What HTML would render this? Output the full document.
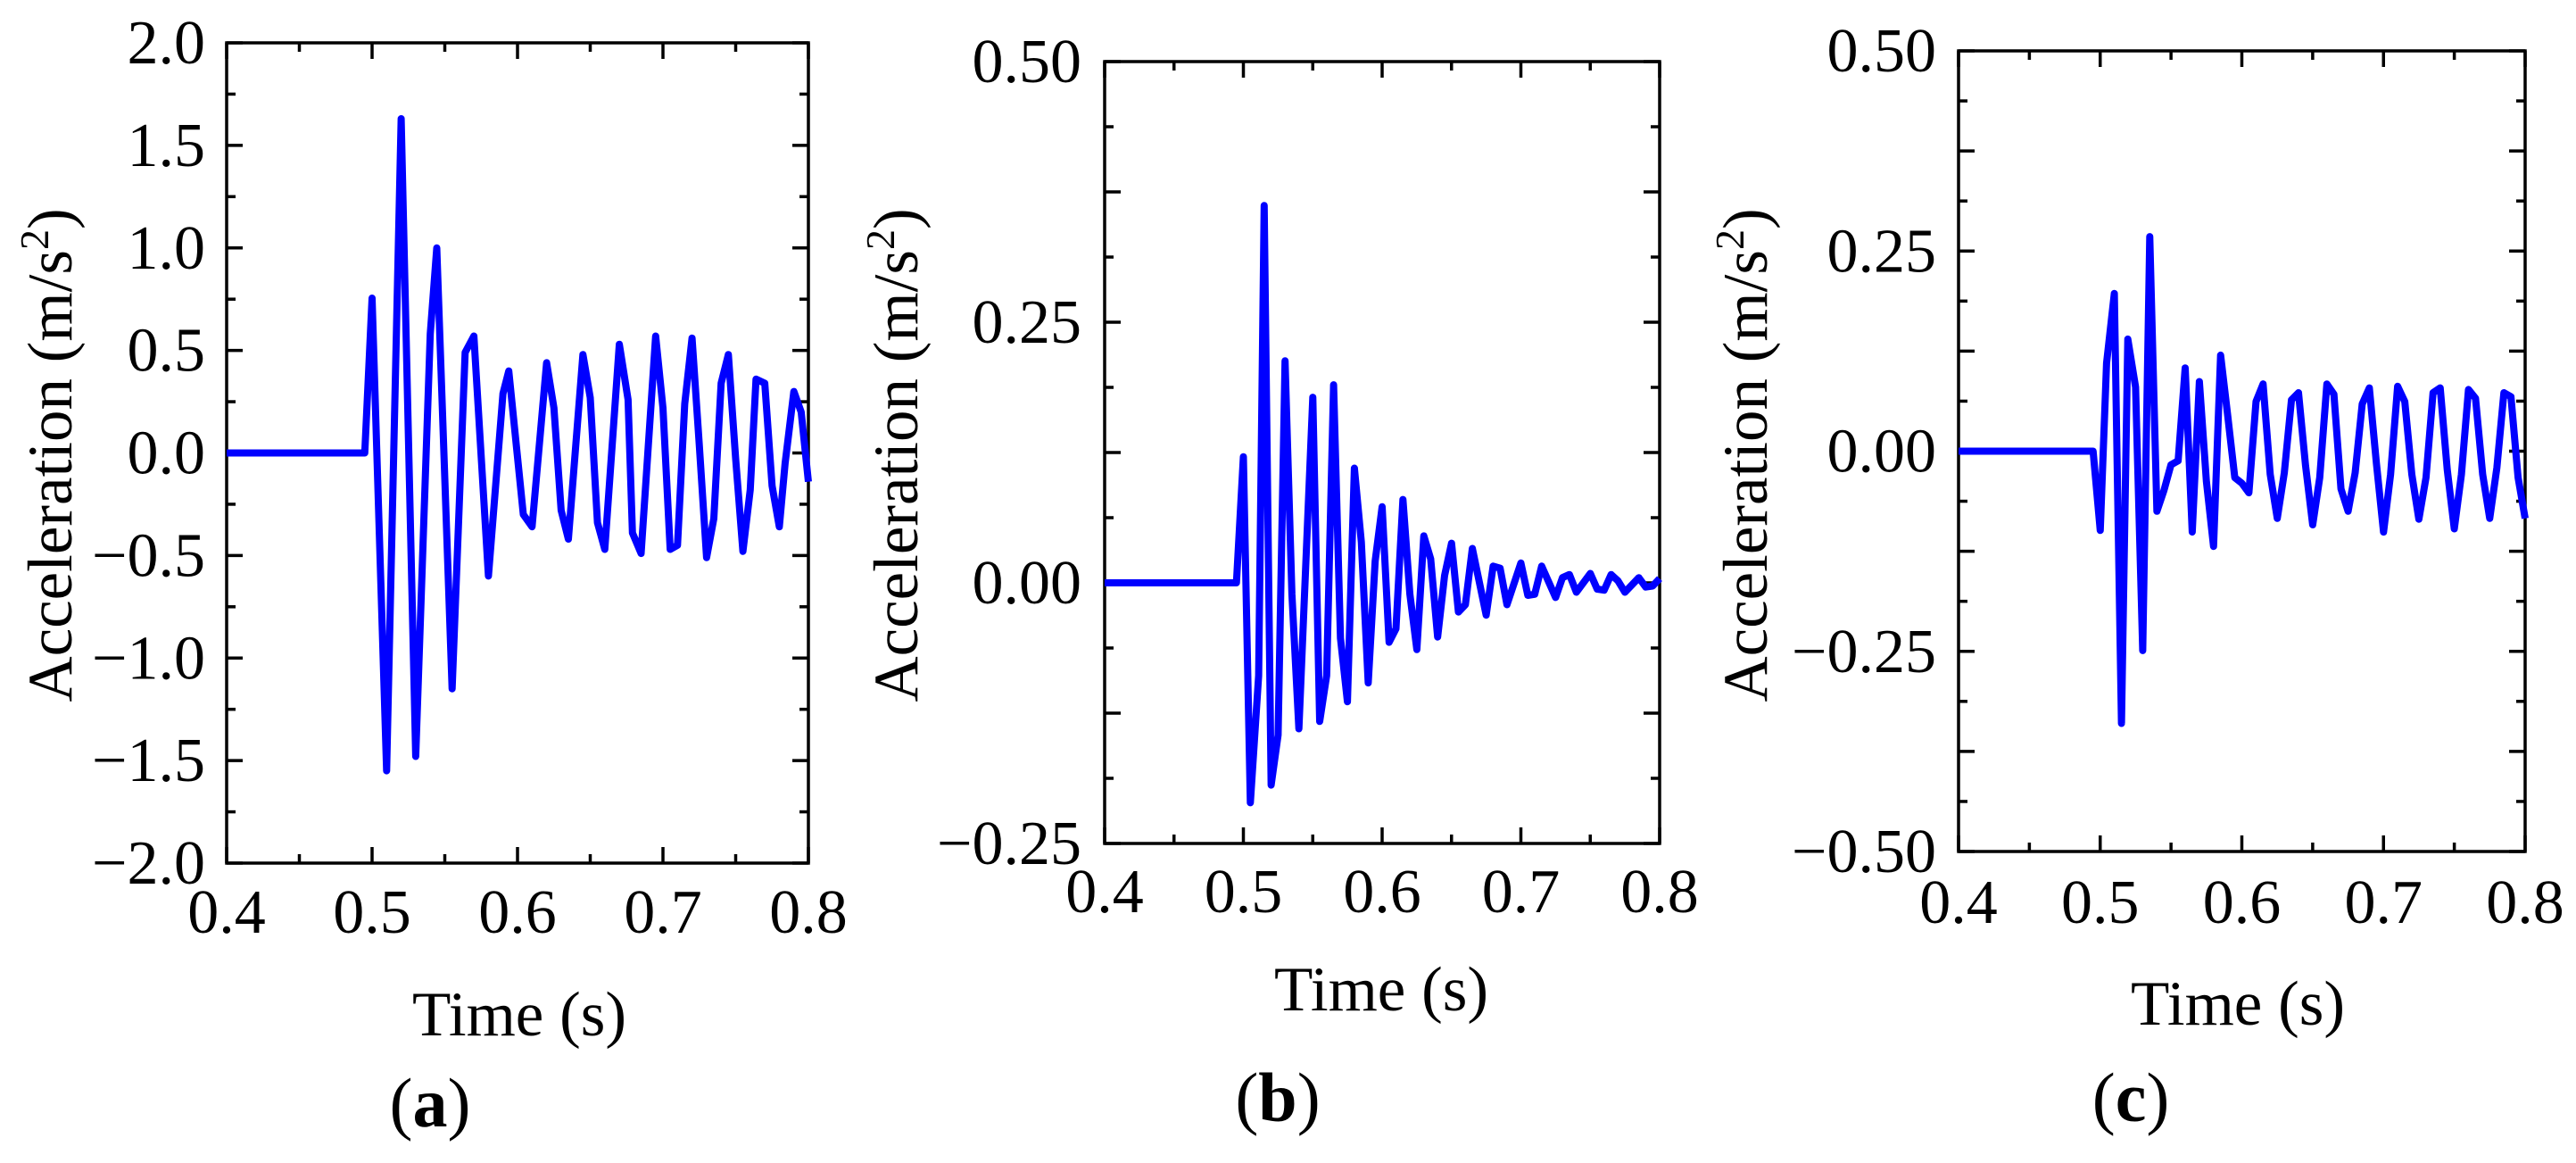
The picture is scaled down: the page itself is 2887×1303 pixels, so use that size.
<!DOCTYPE html>
<html><head><meta charset="utf-8"><style>
html,body{margin:0;padding:0;background:#fff;}
svg{display:block;}
text{font-family:"Liberation Serif",serif;fill:#000;}
</style></head><body>
<svg id="fig" width="2887" height="1303" viewBox="0 0 2887 1303" xmlns="http://www.w3.org/2000/svg"></svg>
<script>
// ---- Panel (a) data ----
const timesA=[0.4,0.495,0.5,0.51,0.52,0.53,0.54,0.5445,0.555,0.564,0.57,0.58,0.59,0.594,0.604,0.61,0.62,0.625,0.63,0.635,0.645,0.65,0.655,0.66,0.67,0.676,0.679,0.685,0.695,0.7,0.705,0.71,0.715,0.72,0.725,0.73,0.735,0.74,0.745,0.75,0.755,0.76,0.764,0.77,0.775,0.78,0.784,0.79,0.795,0.8];
const valuesA=[0,0,0.755,-1.55,1.63,-1.48,0.58,1.0,-1.15,0.49,0.57,-0.6,0.29,0.4,-0.3,-0.36,0.44,0.22,-0.28,-0.42,0.48,0.27,-0.34,-0.47,0.53,0.26,-0.39,-0.49,0.57,0.22,-0.47,-0.45,0.24,0.56,0.04,-0.51,-0.32,0.34,0.48,-0.03,-0.48,-0.18,0.36,0.34,-0.16,-0.36,-0.05,0.3,0.2,-0.14];
const yTicksA=["2.0","1.5","1.0","0.5","0.0","−0.5","−1.0","−1.5","−2.0"];
// ---- Panel (b) data ----
const timesB=[0.4,0.495,0.5,0.505,0.511,0.515,0.52,0.525,0.53,0.535,0.54,0.55,0.555,0.56,0.565,0.57,0.575,0.58,0.585,0.59,0.595,0.6,0.605,0.61,0.615,0.62,0.625,0.63,0.635,0.64,0.645,0.65,0.655,0.66,0.665,0.675,0.68,0.685,0.69,0.7,0.705,0.71,0.715,0.725,0.73,0.735,0.74,0.75,0.755,0.76,0.765,0.77,0.775,0.785,0.79,0.795,0.8];
const valuesB=[0,0,0.121,-0.211,-0.089,0.362,-0.194,-0.146,0.213,-0.011,-0.14,0.178,-0.133,-0.089,0.19,-0.053,-0.114,0.11,0.039,-0.096,0.021,0.073,-0.057,-0.044,0.08,-0.011,-0.064,0.045,0.023,-0.052,0.007,0.038,-0.028,-0.021,0.033,-0.031,0.016,0.014,-0.021,0.019,-0.012,-0.011,0.016,-0.014,0.005,0.008,-0.009,0.009,-0.006,-0.007,0.008,0.002,-0.009,0.005,-0.004,-0.003,0.004];
const yTicksB=["0.50","","0.25","","0.00","","−0.25"];
// ---- Panel (c) data ----
const timesC=[0.4,0.495,0.5,0.5045,0.51,0.515,0.5195,0.525,0.53,0.535,0.54,0.545,0.55,0.555,0.56,0.565,0.57,0.575,0.58,0.585,0.59,0.595,0.6,0.605,0.61,0.615,0.62,0.625,0.63,0.635,0.64,0.645,0.65,0.655,0.66,0.665,0.67,0.675,0.68,0.685,0.69,0.695,0.7,0.705,0.71,0.715,0.72,0.725,0.73,0.735,0.74,0.745,0.75,0.755,0.76,0.765,0.77,0.775,0.78,0.785,0.79,0.795,0.8];
const valuesC=[0,0,-0.099,0.11,0.197,-0.34,0.14,0.08,-0.249,0.268,-0.075,-0.049,-0.017,-0.012,0.104,-0.101,0.087,-0.038,-0.119,0.12,0.045,-0.033,-0.04,-0.052,0.062,0.084,-0.029,-0.084,-0.027,0.064,0.073,-0.018,-0.092,-0.033,0.084,0.071,-0.047,-0.075,-0.027,0.059,0.079,-0.015,-0.101,-0.029,0.081,0.062,-0.029,-0.085,-0.033,0.073,0.079,-0.023,-0.097,-0.029,0.077,0.066,-0.029,-0.084,-0.021,0.073,0.068,-0.033,-0.084];
const yTicksC=["0.50","","0.25","","0.00","","−0.25","","−0.50"];
const xTickLabels=["0.4","0.5","0.6","0.7","0.8"];

const NS="http://www.w3.org/2000/svg";
const svg=document.getElementById('fig');
function mk(tag,attrs,parent){const e=document.createElementNS(NS,tag);for(const k in attrs)e.setAttribute(k,attrs[k]);(parent||svg).appendChild(e);return e;}

function panel(cfg){
  const g=mk('g',{});
  
  
  const sx=t=>cfg.L+(t-0.4)/(0.4)*(cfg.R-cfg.L);
  const sy=v=>cfg.T+(cfg.ymax-v)/(cfg.ymax-cfg.ymin)*(cfg.B-cfg.T);
  const tg=mk('g',{stroke:'#000','stroke-width':3.5},g);
  
  
  for(let i=0;i<=8;i++){const t=0.4+i*0.05;const x=sx(t);const len=i%2===0?18:10;
    mk('line',{x1:x,y1:cfg.B,x2:x,y2:cfg.B-len},tg);mk('line',{x1:x,y1:cfg.T,x2:x,y2:cfg.T+len},tg);}
  const n=cfg.yLabels.length*2-2;
  for(let i=0;i<=n;i++){const v=cfg.ymax-i*(cfg.ymax-cfg.ymin)/n;const y=sy(v);const len=i%2===0?18:10;
    mk('line',{x1:cfg.L,y1:y,x2:cfg.L+len,y2:y},tg);mk('line',{x1:cfg.R,y1:y,x2:cfg.R-len,y2:y},tg);}
  const fr=mk('rect',{x:cfg.L,y:cfg.T,width:cfg.R-cfg.L,height:cfg.B-cfg.T,fill:'none',stroke:'#000','stroke-width':3.5},g);
  
  
  cfg.yLabels.forEach((s,i)=>{const v=cfg.ymax-i*(cfg.ymax-cfg.ymin)/(cfg.yLabels.length-1);
    if(!s)return;
    const t=mk('text',{x:cfg.labR,y:sy(v)+23,'text-anchor':'end','font-size':70},g);t.textContent=s;
    
    });
  xTickLabels.forEach((s,i)=>{const t=mk('text',{x:sx(0.4+i*0.1),y:cfg.xLabY,'text-anchor':'middle','font-size':70},g);t.textContent=s;
    
    });
  let d='';cfg.t.forEach((t,i)=>{d+=(i?'L':'M')+sx(t).toFixed(1)+' '+sy(cfg.v[i]).toFixed(1);});
  const p=mk('path',{d:d,fill:'none',stroke:'#0000ff','stroke-width':8,'stroke-linejoin':'round'},g);
  
  
  const yt=mk('text',{x:0,y:0,'text-anchor':'middle','font-size':71,transform:`translate(${cfg.yTitleX},510) rotate(-90)`},g);
  
  
  yt.appendChild(document.createTextNode('Acceleration (m/s'));
  const sup=mk('tspan',{dy:-26,'font-size':46},yt);sup.textContent='2';
  const cl=mk('tspan',{dy:26},yt);cl.textContent=')';
  const xt=mk('text',{x:cfg.xTitleX,y:cfg.xTitleY,'text-anchor':'middle','font-size':71},g);xt.textContent='Time (s)';
  
  
  const cap=mk('text',{x:cfg.capX,y:cfg.capY,'text-anchor':'middle','font-size':78},g);
  
  
  cap.appendChild(document.createTextNode('('));
  const b=mk('tspan',{'font-weight':'bold'},cap);b.textContent=cfg.id;
  cap.appendChild(document.createTextNode(')'));
}

panel({id:'a',L:254,R:906,T:48,B:967,ymin:-2,ymax:2,yLabels:yTicksA,labR:230,xLabY:1045,t:timesA,v:valuesA,yTitleX:80,xTitleX:582,xTitleY:1160,capX:482,capY:1262});
panel({id:'b',L:1238,R:1860,T:69,B:945,ymin:-0.25,ymax:0.5,yLabels:yTicksB,labR:1212,xLabY:1022,t:timesB,v:valuesB,yTitleX:1028,xTitleX:1548,xTitleY:1132,capX:1432,capY:1256});
panel({id:'c',L:2195,R:2830,T:57,B:954,ymin:-0.5,ymax:0.5,yLabels:yTicksC,labR:2170,xLabY:1034,t:timesC,v:valuesC,yTitleX:1980,xTitleX:2508,xTitleY:1148,capX:2388,capY:1256});
</script>
</body></html>
